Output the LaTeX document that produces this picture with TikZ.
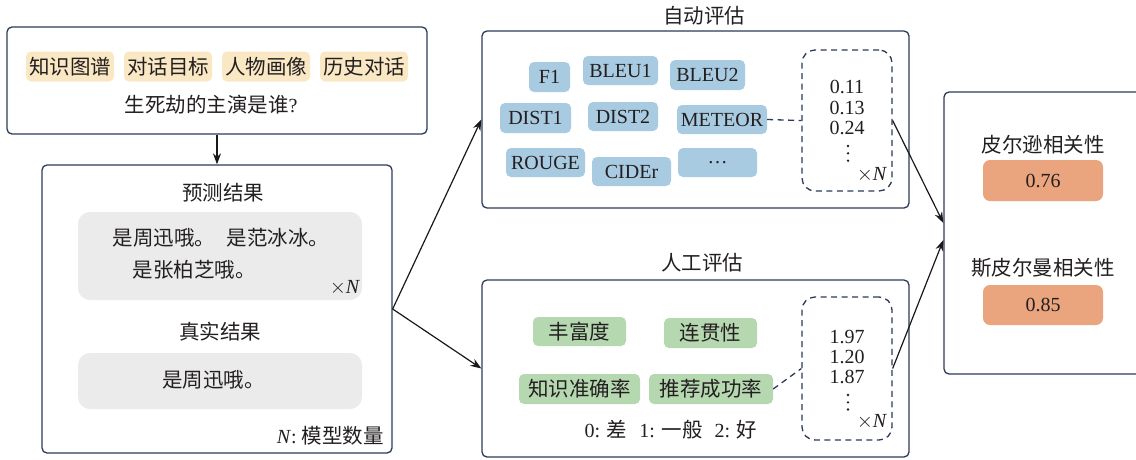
\documentclass[tikz,border=0pt]{standalone}
\usepackage{fontspec}
\setmainfont{Liberation Serif}
\newfontfamily\cjk{Noto Sans CJK SC}
\usetikzlibrary{arrows.meta}
\definecolor{navy}{HTML}{2E3A59}
\definecolor{textc}{HTML}{231F20}
\definecolor{beigec}{HTML}{FAE8C4}
\definecolor{bluec}{HTML}{A9CBE2}
\definecolor{greenc}{HTML}{B6D8B0}
\definecolor{greyc}{HTML}{EBEBEB}
\definecolor{orangec}{HTML}{EAA47E}
\newcommand\zh[1]{{\cjk\fontsize{20.5}{24}\selectfont #1}}
\newcommand\timesN{$\times$\textit{N}}
\begin{document}
\begin{tikzpicture}[x=1pt,y=-1pt,
  font=\fontsize{20}{24}\selectfont, text=textc,
  frame/.style={draw=navy, line width=1.3pt, rounded corners=5pt, fill=white, inner sep=0pt},
  tagbox/.style={rounded corners=5pt, inner sep=0pt, text=textc},
  beige/.style={tagbox, fill=beigec, minimum width=88pt, minimum height=30pt},
  bluetag/.style={tagbox, fill=bluec},
  greentag/.style={tagbox, fill=greenc},
  greybox/.style={tagbox, fill=greyc, rounded corners=12pt, minimum width=284pt},
  orangetag/.style={tagbox, fill=orangec, rounded corners=7pt, minimum width=120pt},
  dbox/.style={draw=navy, dash pattern=on 6pt off 4.5pt, line width=1.3pt, rounded corners=13pt, inner sep=0pt},
  txt/.style={inner sep=0pt},
  dotc/.style={fill=textc},
  arr/.style={-{Stealth[length=11pt,width=8pt]}, line width=1.2pt, draw=black!90},
  dline/.style={draw=navy, dash pattern=on 6pt off 4.5pt, line width=1.3pt}
]
\useasboundingbox (0,0) rectangle (1136,459);
\clip (0,0) rectangle (1136,459);

% ---------- box 1 ----------
\node[frame, minimum width=420pt, minimum height=107pt] (box1) at (217,80.5) {};
\node[beige] (k1) at (70,66.5) {\zh{知识图谱}};
\node[beige] (k2) at (168,66.5) {\zh{对话目标}};
\node[beige] (k3) at (266,66.5) {\zh{人物画像}};
\node[beige] (k4) at (364,66.5) {\zh{历史对话}};
\node[txt] (q) at (211,105) {\zh{生死劫的主演是谁}?};

% ---------- box 2 ----------
\node[frame, minimum width=350pt, minimum height=288pt] (box2) at (217,309) {};
\node[txt] (pt) at (223,193) {\zh{预测结果}};
\node[greybox, minimum height=88pt] (g1) at (220,256) {};
\node[txt] (p1) at (221,238) {\zh{是周迅哦。\hspace{12pt}是范冰冰。}};
\node[txt] (p2) at (194,270) {\zh{是张柏芝哦。}};
\node[txt] (pn) at (345,288) {\timesN};
\node[txt] (rt) at (220,332) {\zh{真实结果}};
\node[greybox, minimum height=56pt] (g2) at (220,381) {};
\node[txt] (r1) at (213.5,380) {\zh{是周迅哦。}};
\node[txt, anchor=east] (nn) at (384,436) {\textit{N}: \zh{模型数量}};

% ---------- auto ----------
\node[frame, minimum width=427pt, minimum height=177pt] (auto) at (695.5,119.5) {};
\node[txt] (autot) at (704,16) {\zh{自动评估}};
\node[bluetag, minimum width=41pt, minimum height=30pt] (f1) at (549.5,77) {F1};
\node[bluetag, minimum width=75pt, minimum height=29pt] (bleu1) at (620.5,70.5) {BLEU1};
\node[bluetag, minimum width=75pt, minimum height=30pt] (bleu2) at (707.5,75) {BLEU2};
\node[bluetag, minimum width=71pt, minimum height=30pt] (dist1) at (535.5,118) {DIST1};
\node[bluetag, minimum width=70pt, minimum height=29pt] (dist2) at (623,116.5) {DIST2};
\node[bluetag, minimum width=90pt, minimum height=29pt] (meteor) at (722,119.5) {METEOR};
\node[bluetag, minimum width=79pt, minimum height=29pt] (rouge) at (545.5,162.5) {ROUGE};
\node[bluetag, minimum width=79pt, minimum height=29pt] (cider) at (631.5,171.5) {CIDEr};
\node[bluetag, minimum width=79pt, minimum height=29pt] (more) at (717.5,162.5) {\ldots};
\node[dbox, minimum width=90pt, minimum height=141pt] (adash) at (847,120.5) {};
\node[txt] (a1) at (847,87) {0.11};
\node[txt] (a2) at (847,108) {0.13};
\node[txt] (a3) at (847,128) {0.24};
\fill[dotc] (848,146) circle (1.3pt) (848,153.3) circle (1.3pt) (848,160.7) circle (1.3pt);
\node[txt] (an) at (872,175) {\timesN};
\draw[dline] (meteor.east) -- (adash.west);

% ---------- manual ----------
\node[frame, minimum width=427pt, minimum height=177pt] (man) at (695.5,368.5) {};
\node[txt] (mant) at (702,263) {\zh{人工评估}};
\node[greentag, minimum width=93pt, minimum height=29pt] (m1) at (579.5,331.5) {\zh{丰富度}};
\node[greentag, minimum width=93pt, minimum height=30pt] (m2) at (710.5,333) {\zh{连贯性}};
\node[greentag, minimum width=121pt, minimum height=30pt] (m3) at (579.5,389) {\zh{知识准确率}};
\node[greentag, minimum width=124pt, minimum height=30pt] (m4) at (711,389) {\zh{推荐成功率}};
\node[txt] (leg) at (671,430) {0: \zh{差}\hspace{12pt}1: \zh{一般}\hspace{12pt}2: \zh{好}};
\node[dbox, minimum width=90pt, minimum height=143pt] (mdash) at (847,368.5) {};
\node[txt] (b1) at (847,337) {1.97};
\node[txt] (b2) at (847,357) {1.20};
\node[txt] (b3) at (847,377) {1.87};
\fill[dotc] (848,395) circle (1.3pt) (848,402.3) circle (1.3pt) (848,409.5) circle (1.3pt);
\node[txt] (bn) at (872,422) {\timesN};
\draw[dline] (m4.east) -- (mdash.west);

% ---------- correlation ----------
\node[frame, minimum width=206pt, minimum height=282pt] (corr) at (1047,233) {};
\node[txt] (c1t) at (1043,145) {\zh{皮尔逊相关性}};
\node[orangetag, minimum height=41pt] (c1) at (1043,180.5) {0.76};
\node[txt] (c2t) at (1043,268) {\zh{斯皮尔曼相关性}};
\node[orangetag, minimum height=40pt] (c2) at (1043,305) {0.85};

% ---------- arrows ----------
\draw[arr] (box1.south) -- (box2.north);
\draw[arr] (box2.east) -- (auto.west);
\draw[arr] (box2.east) -- (man.west);
\draw[arr] (adash.east) -- ([yshift=10pt]corr.west);
\draw[arr] (mdash.east) -- ([yshift=-7pt]corr.west);
\end{tikzpicture}
\end{document}
